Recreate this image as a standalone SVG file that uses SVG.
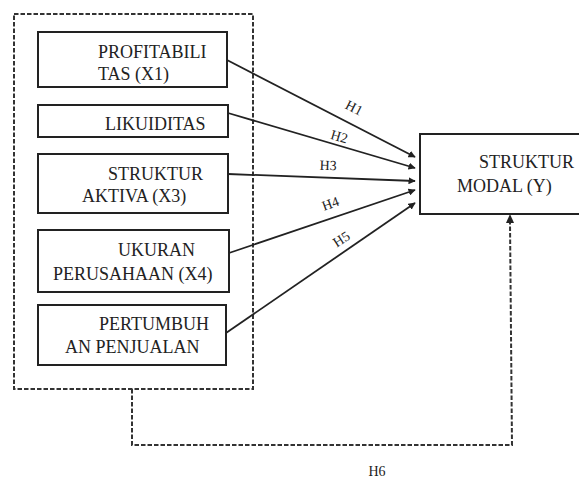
<svg xmlns="http://www.w3.org/2000/svg" width="579" height="479" viewBox="0 0 579 479">
<style>
.box{fill:#fff;stroke:#222;stroke-width:2}
.t{font-family:'Liberation Serif','Times New Roman','DejaVu Serif',serif;font-size:18px;fill:#222}
.h{font-family:'Liberation Serif','Times New Roman','DejaVu Serif',serif;font-size:14px;fill:#222;text-anchor:middle}
.ln{stroke:#222;stroke-width:1.8;fill:none;marker-end:url(#ah)}
.dash{stroke:#333;stroke-width:2;fill:none;stroke-dasharray:4.5,2}
</style>
<defs>
<marker id="ah" viewBox="0 0 10 10" refX="9" refY="5" markerWidth="4" markerHeight="4" orient="auto" markerUnits="strokeWidth">
<path d="M0,0 L10,5 L0,10 z" fill="#222"/>
</marker>
</defs>
<rect width="579" height="479" fill="#fff"/>
<g id="group-x">
<rect x="14" y="14" width="239" height="375" class="dash"/>
</g>
<g id="x1"><rect x="38" y="32" width="189" height="55" class="box"/><text class="t" x="98" y="58">PROFITABILI</text><text class="t" x="98" y="80">TAS (X1)</text></g>
<g id="x2"><rect x="38" y="105" width="190" height="32" class="box"/><text class="t" x="105" y="130">LIKUIDITAS</text></g>
<g id="x3"><rect x="38" y="154" width="190" height="59" class="box"/><text class="t" x="108" y="180">STRUKTUR</text><text class="t" x="82" y="202">AKTIVA (X3)</text></g>
<g id="x4"><rect x="38" y="230" width="191" height="62" class="box"/><text class="t" x="118" y="256">UKURAN</text><text class="t" x="53" y="280">PERUSAHAAN (X4)</text></g>
<g id="x5"><rect x="38" y="305" width="188" height="60" class="box"/><text class="t" x="99" y="330">PERTUMBUH</text><text class="t" x="65" y="353">AN PENJUALAN</text></g>
<g id="y"><rect x="420" y="134" width="175" height="80" class="box"/><text class="t" x="479" y="168">STRUKTUR</text><text class="t" x="457" y="192">MODAL (Y)</text></g>
<g id="connectors">
<line class="ln" x1="227" y1="60" x2="415" y2="157"/>
<line class="ln" x1="228" y1="113" x2="415" y2="168"/>
<line class="ln" x1="228" y1="174" x2="415" y2="181"/>
<line class="ln" x1="229" y1="253" x2="415" y2="190"/>
<line class="ln" x1="226" y1="333" x2="415" y2="203"/>
<path class="dash" d="M132,389 L132,445 L512,445 L510,222"/>
<path d="M506,223 L510,214 L514,223 z" fill="#222"/>
<text class="h" transform="translate(352,112) rotate(27)">H1</text>
<text class="h" transform="translate(338,141) rotate(16)">H2</text>
<text class="h" transform="translate(328,170) rotate(2)">H3</text>
<text class="h" transform="translate(332,208) rotate(-20)">H4</text>
<text class="h" transform="translate(344,243) rotate(-33)">H5</text>
<text class="h" x="377" y="476">H6</text>
</g>
</svg>
